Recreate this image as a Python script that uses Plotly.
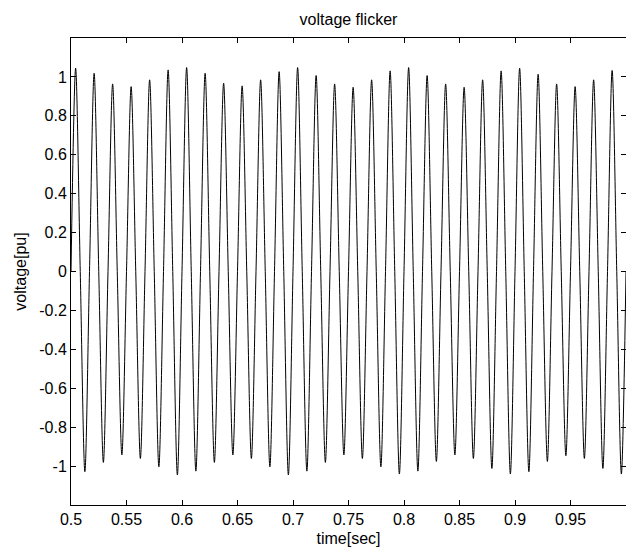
import numpy as np
import plotly.graph_objects as go

# Values
# 60 Hz voltage with 10 Hz flicker; extreme value of each half cycle
peak_values = [1.045, 1.019, 0.964, 0.950, 0.985, 1.036, 1.048, 1.019, 0.968, 0.954,
               0.985, 1.027, 1.048, 1.007, 0.964, 0.947, 0.985, 1.031, 1.048, 1.007,
               0.964, 0.947, 0.985, 1.031, 1.045, 1.014, 0.964, 0.950, 0.985, 1.033]
trough_values = [-1.029, -0.981, -0.943, -0.961, -1.004, -1.046, -1.026, -0.981, -0.943, -0.961,
                 -1.004, -1.046, -1.026, -0.981, -0.943, -0.961, -1.004, -1.041, -1.026, -0.976,
                 -0.943, -0.961, -1.012, -1.041, -1.029, -0.976, -0.947, -0.961, -1.012, -1.041]
t_start = 0.5
t_end = 1.0
n_cycles = 30
zero_level = 0.0

x_tick_vals = [0.5, 0.55, 0.6, 0.65, 0.7, 0.75, 0.8, 0.85, 0.9, 0.95]
x_tick_text = ["0.5", "0.55", "0.6", "0.65", "0.7", "0.75", "0.8", "0.85", "0.9", "0.95"]
y_tick_vals = [1, 0.8, 0.6, 0.4, 0.2, 0, -0.2, -0.4, -0.6, -0.8, -1]
y_tick_text = ["1", "0.8", "0.6", "0.4", "0.2", "0", "-0.2", "-0.4", "-0.6", "-0.8", "-1"]

# quarter-cycle sample grid: zero, peak, zero, trough, ...
t = np.linspace(t_start, t_end, 4 * n_cycles + 1)
v = []
for p, q in zip(peak_values, trough_values):
    v.extend([zero_level, p, zero_level, q])
v.append(zero_level)

fig = go.Figure()
fig.add_trace(go.Scatter(x=t, y=v, mode="lines",
                         line=dict(color="black", width=1, shape="spline", smoothing=0.9),
                         showlegend=False, hoverinfo="skip"))

font_family = "Liberation Sans, Arial, Helvetica, sans-serif"
axis_common = dict(showline=True, linecolor="black", linewidth=1, mirror="ticks",
                   ticks="inside", ticklen=5, tickcolor="black", showgrid=False,
                   zeroline=False, tickfont=dict(family=font_family, size=16, color="black"))

fig.update_layout(
    width=626, height=552,
    margin=dict(l=71, r=0, t=38, b=47),
    paper_bgcolor="white", plot_bgcolor="white",
    title=dict(text="voltage flicker", x=0.5567, xanchor="center", y=0.965, yanchor="middle",
               font=dict(family=font_family, size=16, color="black")),
    xaxis=dict(range=[t_start, t_end], tickvals=x_tick_vals, ticktext=x_tick_text,
               title=dict(text="time[sec]", standoff=5,
                          font=dict(family=font_family, size=16, color="black")),
               **axis_common),
    yaxis=dict(range=[-1.2, 1.2], tickvals=y_tick_vals, ticktext=y_tick_text,
               title=dict(text="voltage[pu]", standoff=8,
                          font=dict(family=font_family, size=16, color="black")),
               **axis_common),
)

fig.write_html("out.html", config={"displayModeBar": False},
               post_script="document.body.style.margin='0';document.body.style.overflow='hidden';")
